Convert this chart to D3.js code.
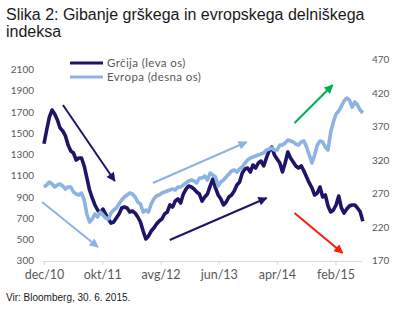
<!DOCTYPE html>
<html>
<head>
<meta charset="utf-8">
<script src="https://cdn.jsdelivr.net/npm/d3@7"></script>
<style>
  html, body { margin: 0; padding: 0; background: #fff; }
  svg { display: block; }
</style>
</head>
<body>
<svg id="chart" width="400" height="323"></svg>
<script>
// Series sampled every two weeks from 1 Dec 2010
const startDate = "2010-12-01";
const stepDays = 14;

// Greek stock index (left axis)
const greece = [
  1400, 1529, 1651, 1717, 1680, 1623, 1548, 1520, 1473, 1388,
  1332, 1313, 1247, 1266, 1266, 1191, 1078, 965, 890, 824,
  777, 748, 786, 739, 692, 654, 664, 701, 739, 796,
  805, 796, 758, 767, 748, 711, 664, 579, 504, 532,
  579, 607, 645, 673, 692, 739, 758, 824, 805, 861,
  880, 842, 927, 974, 1002, 993, 974, 946, 927, 861,
  899, 927, 1002, 1068, 984, 918, 880, 824, 852, 899,
  918, 955, 1012, 1040, 1125, 1162, 1172, 1134, 1200, 1172,
  1219, 1237, 1191, 1266, 1332, 1369, 1294, 1256, 1219, 1134,
  1219, 1322, 1266, 1228, 1191, 1172, 1191, 1144, 1087, 1031,
  984, 918, 937, 993, 899, 918, 814, 758, 777, 824,
  908, 796, 748, 786, 814, 824, 824, 796, 760, 670
];

// European stock index (right axis)
const europe = [
  279.8, 282.7, 287.2, 284.2, 279.8, 282.7, 284.2, 281.3, 276.8, 279.8,
  279.8, 272.3, 269.3, 267.9, 270.8, 260.4, 239.6, 227.6, 232.1, 239.6,
  235.1, 242.5, 238.1, 233.6, 232.1, 241.0, 245.5, 248.5, 254.5, 260.4,
  264.9, 267.9, 270.8, 269.3, 264.9, 257.4, 254.5, 242.5, 245.5, 242.5,
  254.5, 261.9, 266.4, 267.9, 270.8, 272.3, 273.8, 275.3, 276.8, 275.3,
  279.8, 279.8, 282.7, 285.7, 288.7, 290.2, 288.7, 285.7, 293.2, 293.2,
  296.2, 290.2, 300.6, 297.6, 294.7, 281.3, 287.2, 290.2, 294.7, 299.1,
  303.6, 305.1, 302.1, 306.6, 309.6, 315.5, 320.0, 323.0, 324.5, 325.9,
  327.4, 328.9, 330.4, 334.9, 336.4, 337.9, 334.9, 334.9, 342.3, 342.3,
  345.3, 349.8, 348.3, 346.8, 343.8, 342.3, 346.8, 348.3, 339.4, 327.4,
  315.5, 327.4, 342.3, 348.3, 346.8, 339.4, 334.9, 361.7, 376.6, 388.5,
  393.0, 400.4, 407.9, 412.3, 409.4, 398.9, 406.4, 401.9, 394.5, 390.0
];

// Axis ticks
const leftTicks = [300, 500, 700, 900, 1100, 1300, 1500, 1700, 1900, 2100];
const rightTicks = [170, 220, 270, 320, 370, 420, 470];
const xTickDates = ["2010-12-01", "2011-10-01", "2012-08-01", "2013-06-01", "2014-04-01", "2015-02-01"];
const xTickLabels = ["dec/10", "okt/11", "avg/12", "jun/13", "apr/14", "feb/15"];

// Trend arrows: [from date, from value, to date, to value, axis, colour]
const arrows = [
  ["2011-03-10", 1764, "2011-12-06", 1049, "left", "#1f1566"],
  ["2010-11-21", 257.4, "2011-09-09", 190.4, "right", "#8db3e2"],
  ["2012-06-22", 285.7, "2013-10-25", 346.8, "right", "#8db3e2"],
  ["2012-09-18", 494.6, "2014-02-06", 889.6, "left", "#1f1566"],
  ["2014-07-02", 375.1, "2015-01-17", 431.7, "right", "#00b050"],
  ["2014-07-02", 748.5, "2015-03-10", 372.4, "left", "#ff1a0a"]
];

const legendItems = ["Grčija (leva os)", "Evropa (desna os)"];
const titleLines = ["Slika 2: Gibanje grškega in evropskega delniškega", "indeksa"];
const sourceText = "Vir: Bloomberg, 30. 6. 2015.";

const colGreece = "#1f1566";
const colEurope = "#8db3e2";
const colText = "#595959";

const parse = d3.utcParse("%Y-%m-%d");
const t0 = parse(startDate);
const dates = greece.map((_, i) => d3.utcDay.offset(t0, i * stepDays));

const svg = d3.select("#chart");

const x = d3.scaleUtc()
  .domain([parse("2010-12-01"), parse("2015-06-30")])
  .range([44, 364]);
const yL = d3.scaleLinear().domain([300, 2100]).range([260.7, 69.3]);
const yR = d3.scaleLinear().domain([170, 470]).range([260.7, 59.3]);

// Title
svg.append("g")
  .selectAll("text")
  .data(titleLines)
  .join("text")
  .attr("x", 6)
  .attr("y", (d, i) => 20 + i * 17)
  .attr("font-family", "Liberation Sans, Arial, sans-serif")
  .attr("font-size", 16)
  .attr("fill", "#1a1a1a")
  .text(d => d);

// X axis
const xAxis = d3.axisBottom(x)
  .tickValues(xTickDates.map(parse))
  .tickFormat((d, i) => xTickLabels[i])
  .tickSize(4)
  .tickPadding(5);

const gx = svg.append("g")
  .attr("transform", "translate(0,261)")
  .call(xAxis);
gx.select(".domain").attr("stroke", "#d9d9d9").attr("d", "M43,0.5H362");
gx.selectAll(".tick line").attr("stroke", "#d9d9d9");
gx.selectAll(".tick text")
  .attr("font-family", "Lato, sans-serif")
  .attr("font-size", 12.5)
  .attr("fill", colText);

// Left axis
const gl = svg.append("g")
  .attr("transform", "translate(38,0)")
  .call(d3.axisLeft(yL).tickValues(leftTicks).tickFormat(d3.format("d")).tickSize(0).tickPadding(4));
gl.select(".domain").remove();
gl.selectAll(".tick text")
  .attr("font-family", "Lato, sans-serif")
  .attr("font-size", 10)
  .attr("fill", colText);

// Right axis
const gr = svg.append("g")
  .attr("transform", "translate(368,0)")
  .call(d3.axisRight(yR).tickValues(rightTicks).tickFormat(d3.format("d")).tickSize(0).tickPadding(4));
gr.select(".domain").remove();
gr.selectAll(".tick text")
  .attr("font-family", "Lato, sans-serif")
  .attr("font-size", 10)
  .attr("fill", colText);

// Series lines
const lineL = d3.line().x((d, i) => x(dates[i])).y(d => yL(d));
const lineR = d3.line().x((d, i) => x(dates[i])).y(d => yR(d));

svg.append("path")
  .datum(greece)
  .attr("d", lineL)
  .attr("fill", "none")
  .attr("stroke", colGreece)
  .attr("stroke-width", 3.6)
  .attr("stroke-linejoin", "round");

svg.append("path")
  .datum(europe)
  .attr("d", lineR)
  .attr("fill", "none")
  .attr("stroke", colEurope)
  .attr("stroke-width", 3.6)
  .attr("stroke-linejoin", "round");

// Arrow heads
const defs = svg.append("defs");
arrows.forEach((a, i) => {
  defs.append("marker")
    .attr("id", "head" + i)
    .attr("viewBox", "0 0 10 10")
    .attr("refX", 9)
    .attr("refY", 5)
    .attr("markerUnits", "userSpaceOnUse")
    .attr("markerWidth", 10)
    .attr("markerHeight", 9)
    .attr("orient", "auto")
    .append("path")
    .attr("d", "M0,0L10,5L0,10Z")
    .attr("fill", a[5]);
});

svg.append("g")
  .selectAll("line")
  .data(arrows)
  .join("line")
  .attr("x1", d => x(parse(d[0])))
  .attr("y1", d => (d[4] === "left" ? yL : yR)(d[1]))
  .attr("x2", d => x(parse(d[2])))
  .attr("y2", d => (d[4] === "left" ? yL : yR)(d[3]))
  .attr("stroke", d => d[5])
  .attr("stroke-width", 2)
  .attr("marker-end", (d, i) => `url(#head${i})`);

// Legend
const legend = svg.append("g");
legendItems.forEach((label, i) => {
  const yy = 63 + i * 14;
  legend.append("line")
    .attr("x1", 70).attr("x2", 103)
    .attr("y1", yy).attr("y2", yy)
    .attr("stroke", i === 0 ? colGreece : colEurope)
    .attr("stroke-width", 3);
  legend.append("text")
    .attr("x", 107)
    .attr("y", yy + 4)
    .attr("font-family", "Lato, sans-serif")
    .attr("font-size", 11.5)
    .attr("letter-spacing", 0.4)
    .attr("fill", colText)
    .text(label);
});

// Source note
svg.append("text")
  .attr("x", 6)
  .attr("y", 301)
  .attr("font-family", "Liberation Sans, Arial, sans-serif")
  .attr("font-size", 10)
  .attr("fill", "#1a1a1a")
  .text(sourceText);
</script>
</body>
</html>
